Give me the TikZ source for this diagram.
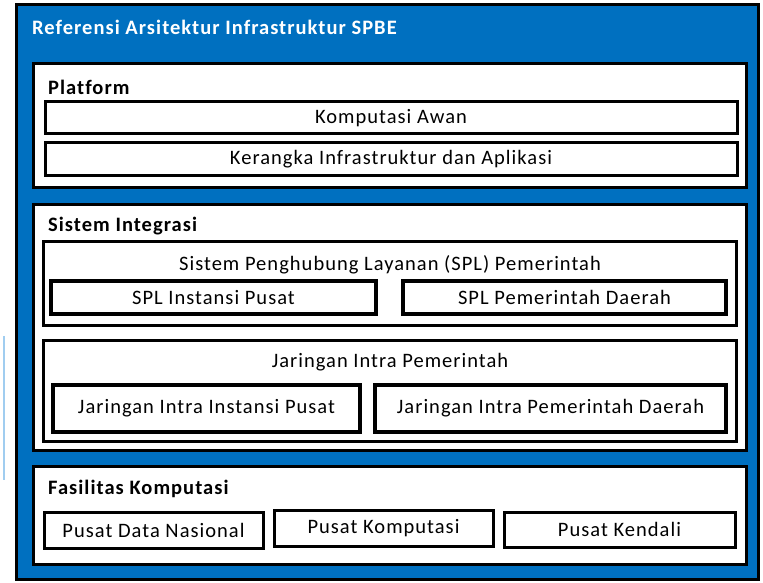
\documentclass[tikz,border=0pt]{standalone}
\usepackage{fontspec}
\setmainfont{Carlito}[LetterSpace=5, Ligatures=NoCommon]
\usetikzlibrary{positioning}
\definecolor{spbe-blue}{RGB}{0,112,192}
\definecolor{light-blue}{RGB}{160,205,240}
\tikzstyle{outer-frame}=[draw=black, fill=spbe-blue, line width=3pt, rectangle, inner sep=0pt]
\tikzstyle{panel}=[draw=black, fill=white, line width=3pt, rectangle, inner sep=0pt]
\tikzstyle{layer}=[draw=black, fill=white, line width=3pt, rectangle, inner sep=0pt, font=\fontsize{20.5}{23}\selectfont]
\tikzstyle{sub-layer}=[draw=black, fill=white, line width=4pt, rectangle, inner sep=0pt, font=\fontsize{20.5}{23}\selectfont]
\tikzstyle{heading}=[anchor=west, inner sep=0pt, font=\bfseries\fontsize{20.5}{23}\selectfont]
\tikzstyle{caption}=[inner sep=0pt, font=\fontsize{20.5}{23}\selectfont]

\begin{document}
\begin{tikzpicture}[x=1pt, y=-1pt]
\useasboundingbox (0,0) rectangle (763,583);

\draw [light-blue, line width=2pt] (4,336) -- (4,480);

\node[outer-frame, minimum width=742pt, minimum height=574pt] (spbe) at (387,292) {};
\node[heading, text=white] (spbe-title) at (32,27) {Referensi Arsitektur Infrastruktur SPBE};

% platform
\node[panel, minimum width=713pt, minimum height=123pt] (platform) at (389.5,125.5) {};
\node[heading] (platform-title) at (48,87) {Platform};
\node[layer, minimum width=692pt, minimum height=32pt] (awan) at (391,118) {Komputasi Awan};
\node[layer, minimum width=692pt, minimum height=32pt] (kerangka) at (391,159) {Kerangka Infrastruktur dan Aplikasi};

% sistem integrasi
\node[panel, minimum width=713pt, minimum height=246pt] (integrasi) at (389.5,327) {};
\node[heading] (integrasi-title) at (48,226) {Sistem Integrasi};
\node[layer, minimum width=693pt, minimum height=84pt] (spl) at (389.5,283) {};
\node[caption] (spl-title) at (390,265) {Sistem Penghubung Layanan (SPL) Pemerintah};
\node[sub-layer, minimum width=325pt, minimum height=33pt] (spl-pusat) at (213.5,297.5) {SPL Instansi Pusat};
\node[sub-layer, minimum width=323pt, minimum height=33pt] (spl-daerah) at (564.5,297.5) {SPL Pemerintah Daerah};
\node[layer, minimum width=693pt, minimum height=101pt] (jip) at (389.5,390.5) {};
\node[caption] (jip-title) at (390,362) {Jaringan Intra Pemerintah};
\node[sub-layer, minimum width=307pt, minimum height=47pt] (jip-pusat) at (206.5,408.5) {Jaringan Intra Instansi Pusat};
\node[sub-layer, minimum width=351pt, minimum height=47pt] (jip-daerah) at (550.5,408.5) {Jaringan Intra Pemerintah Daerah};

% fasilitas komputasi
\node[panel, minimum width=713pt, minimum height=98pt] (fasilitas) at (389.5,515) {};
\node[heading] (fasilitas-title) at (48,489) {Fasilitas Komputasi};
\node[layer, minimum width=219pt, minimum height=36pt] (pdn) at (153.5,530) {Pusat Data Nasional};
\node[layer, minimum width=219pt, minimum height=36pt] (komputasi) at (383.5,528) {Pusat Komputasi};
\node[layer, minimum width=231pt, minimum height=35pt] (kendali) at (619.5,529.5) {Pusat Kendali};
\end{tikzpicture}
\end{document}
